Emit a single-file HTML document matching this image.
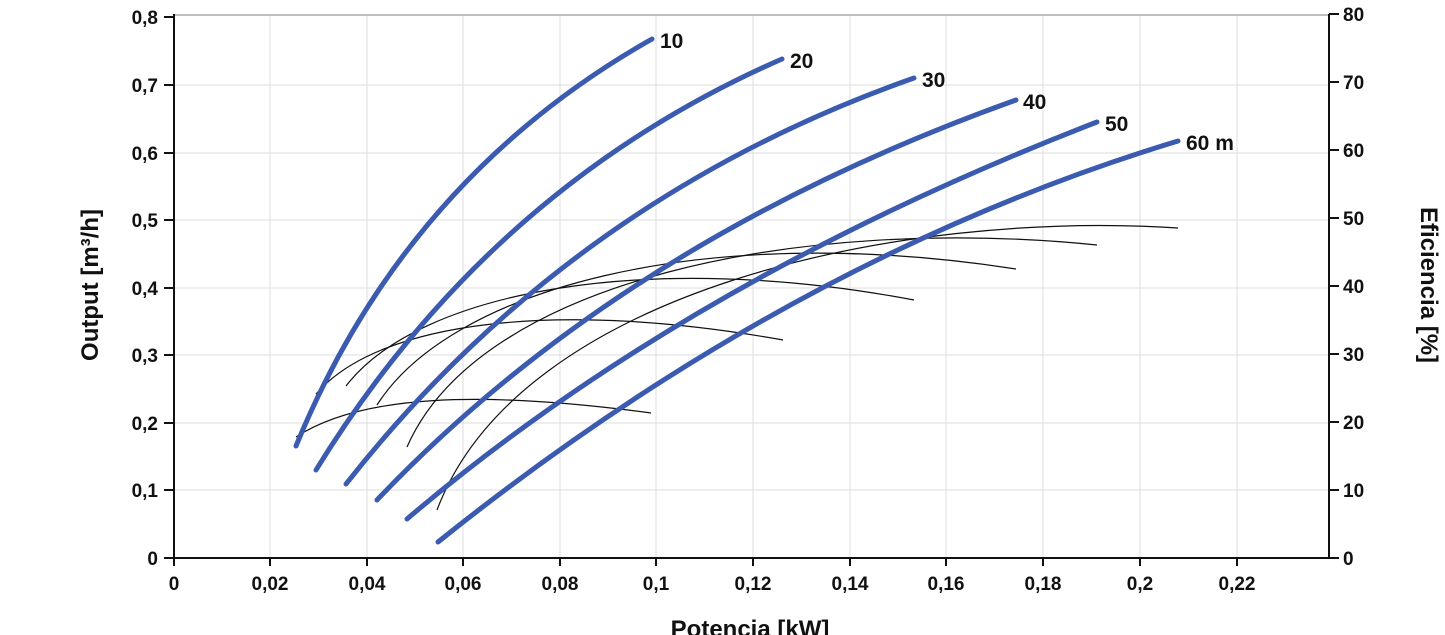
<!DOCTYPE html>
<html><head><style>body{margin:0;background:#fff}svg{display:block}text{font-family:"Liberation Sans",Arial,sans-serif;font-weight:bold;fill:#111}</style></head><body>
<svg width="1445" height="635" viewBox="0 0 1445 635">
<g stroke="#ddd" stroke-width="1">
<line x1="270" y1="15" x2="270" y2="558"/><line x1="367" y1="15" x2="367" y2="558"/><line x1="463" y1="15" x2="463" y2="558"/><line x1="560" y1="15" x2="560" y2="558"/><line x1="656" y1="15" x2="656" y2="558"/><line x1="753" y1="15" x2="753" y2="558"/><line x1="850" y1="15" x2="850" y2="558"/><line x1="946" y1="15" x2="946" y2="558"/><line x1="1043" y1="15" x2="1043" y2="558"/><line x1="1140" y1="15" x2="1140" y2="558"/><line x1="1237" y1="15" x2="1237" y2="558"/>
<line x1="174" y1="85" x2="1329" y2="85"/><line x1="174" y1="153" x2="1329" y2="153"/><line x1="174" y1="220" x2="1329" y2="220"/><line x1="174" y1="288" x2="1329" y2="288"/><line x1="174" y1="355" x2="1329" y2="355"/><line x1="174" y1="423" x2="1329" y2="423"/><line x1="174" y1="490" x2="1329" y2="490"/>
</g>
<line x1="174" y1="15" x2="1329" y2="15" stroke="#aaa" stroke-width="1.5"/>
<g stroke="#111" stroke-width="2" fill="none">
<line x1="174" y1="14" x2="174" y2="558"/><line x1="1329" y1="14" x2="1329" y2="558"/><line x1="174" y1="558" x2="1329" y2="558"/>
</g>
<g stroke="#111" stroke-width="2">
<line x1="164" y1="17" x2="174" y2="17"/><line x1="164" y1="85" x2="174" y2="85"/><line x1="164" y1="153" x2="174" y2="153"/><line x1="164" y1="220" x2="174" y2="220"/><line x1="164" y1="288" x2="174" y2="288"/><line x1="164" y1="355" x2="174" y2="355"/><line x1="164" y1="423" x2="174" y2="423"/><line x1="164" y1="490" x2="174" y2="490"/><line x1="164" y1="558" x2="174" y2="558"/>
<line x1="1329" y1="14" x2="1339" y2="14"/><line x1="1329" y1="82" x2="1339" y2="82"/><line x1="1329" y1="150" x2="1339" y2="150"/><line x1="1329" y1="218" x2="1339" y2="218"/><line x1="1329" y1="286" x2="1339" y2="286"/><line x1="1329" y1="354" x2="1339" y2="354"/><line x1="1329" y1="422" x2="1339" y2="422"/><line x1="1329" y1="490" x2="1339" y2="490"/><line x1="1329" y1="558" x2="1339" y2="558"/>
<line x1="174" y1="558" x2="174" y2="566"/><line x1="270" y1="558" x2="270" y2="566"/><line x1="367" y1="558" x2="367" y2="566"/><line x1="463" y1="558" x2="463" y2="566"/><line x1="560" y1="558" x2="560" y2="566"/><line x1="656" y1="558" x2="656" y2="566"/><line x1="753" y1="558" x2="753" y2="566"/><line x1="850" y1="558" x2="850" y2="566"/><line x1="946" y1="558" x2="946" y2="566"/><line x1="1043" y1="558" x2="1043" y2="566"/><line x1="1140" y1="558" x2="1140" y2="566"/><line x1="1237" y1="558" x2="1237" y2="566"/>
</g>
<g font-size="19" text-anchor="end">
<text x="158" y="24">0,8</text><text x="158" y="92">0,7</text><text x="158" y="160">0,6</text><text x="158" y="227">0,5</text><text x="158" y="295">0,4</text><text x="158" y="362">0,3</text><text x="158" y="430">0,2</text><text x="158" y="497">0,1</text><text x="158" y="565">0</text>
</g>
<g font-size="19">
<text x="1343" y="21">80</text><text x="1343" y="89">70</text><text x="1343" y="157">60</text><text x="1343" y="225">50</text><text x="1343" y="293">40</text><text x="1343" y="361">30</text><text x="1343" y="429">20</text><text x="1343" y="497">10</text><text x="1343" y="565">0</text>
</g>
<g font-size="19" text-anchor="middle">
<text x="174" y="590">0</text><text x="270" y="590">0,02</text><text x="367" y="590">0,04</text><text x="463" y="590">0,06</text><text x="560" y="590">0,08</text><text x="656" y="590">0,1</text><text x="753" y="590">0,12</text><text x="850" y="590">0,14</text><text x="946" y="590">0,16</text><text x="1043" y="590">0,18</text><text x="1140" y="590">0,2</text><text x="1237" y="590">0,22</text>
</g>
<text x="750" y="637" font-size="24" text-anchor="middle">Potencia [kW]</text>
<text transform="translate(98,285) rotate(-90)" font-size="24" text-anchor="middle">Output [m³/h]</text>
<text transform="translate(1421,285) rotate(90)" font-size="24" text-anchor="middle">Eficiencia [%]</text>
<g stroke="#111" stroke-width="1.2" fill="none">
<path d="M296,437 C360,395 480,390 651,413"/>
<path d="M316,394 C380,320 560,300 783,340"/>
<path d="M346,386 C420,290 650,250 914,300"/>
<path d="M377,405 C450,290 700,220 1016,269"/>
<path d="M407,447 C480,280 800,215 1097,245"/>
<path d="M437,510 C520,290 900,210 1178,228"/>
</g>
<g stroke="#3b5bb0" stroke-width="5" fill="none" stroke-linecap="round">
<path d="M296,446 Q406,178 652,39"/>
<path d="M316,470 Q491,186 782,59"/>
<path d="M346,484 Q570,199 914,78"/>
<path d="M377,500 Q624,240 1016,100"/>
<path d="M407,519 Q688,280 1097,122"/>
<path d="M438,542 Q792,258 1178,141"/>
</g>
<g font-size="21">
<text x="660" y="48">10</text><text x="790" y="68">20</text><text x="922" y="87">30</text><text x="1023" y="109">40</text><text x="1105" y="131">50</text><text x="1186" y="150">60 m</text>
</g>
</svg>
</body></html>
